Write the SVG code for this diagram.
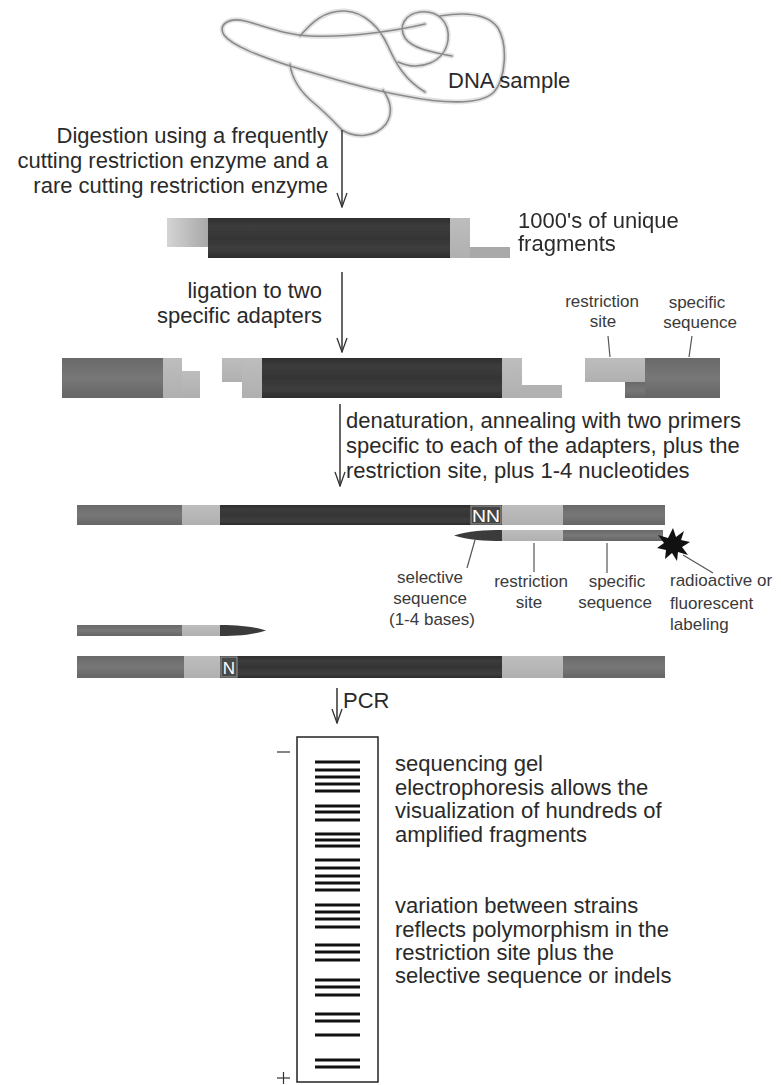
<svg xmlns="http://www.w3.org/2000/svg" width="781" height="1085" viewBox="0 0 781 1085">
  <style>
    .t { font-family: "Liberation Sans", Arial, sans-serif; font-size: 22px; fill: #2a2a2a; }
    .s { font-family: "Liberation Sans", Arial, sans-serif; font-size: 17px; fill: #3a3a3a; }
    .w { font-family: "Liberation Sans", Arial, sans-serif; font-size: 17px; fill: #ffffff; }
    .strand { fill: none; stroke: #8a8a8a; stroke-width: 1.6; stroke-linecap: round; }
    .halo { fill: none; stroke: #e2e2e2; stroke-width: 5; stroke-linecap: round; }
    .conn { stroke: #333; stroke-width: 1.5; fill: none; }
    .lead { stroke: #555; stroke-width: 1.2; fill: none; }
    .band { stroke: #111; stroke-width: 3; }
  </style>
  <defs>
    <linearGradient id="gDark" x1="0" y1="0" x2="0" y2="1">
      <stop offset="0" stop-color="#2e2e2e"/>
      <stop offset="0.2" stop-color="#3c3c3c"/>
      <stop offset="0.5" stop-color="#353535"/>
      <stop offset="0.8" stop-color="#3e3e3e"/>
      <stop offset="1" stop-color="#2c2c2c"/>
    </linearGradient>
    <linearGradient id="gMid" x1="0" y1="0" x2="0" y2="1">
      <stop offset="0" stop-color="#6a6a6a"/>
      <stop offset="0.5" stop-color="#777777"/>
      <stop offset="1" stop-color="#666666"/>
    </linearGradient>
    <linearGradient id="gLight" x1="0" y1="0" x2="0" y2="1">
      <stop offset="0" stop-color="#bdbdbd"/>
      <stop offset="1" stop-color="#b0b0b0"/>
    </linearGradient>
    <linearGradient id="gFadeL" x1="0" y1="0" x2="1" y2="0">
      <stop offset="0" stop-color="#d4d4d4"/>
      <stop offset="1" stop-color="#a8a8a8"/>
    </linearGradient>
    <filter id="soft" x="-5%" y="-20%" width="110%" height="140%">
      <feGaussianBlur stdDeviation="0.7"/>
    </filter>
    <marker id="vhead" viewBox="0 0 16 12" refX="15" refY="6" markerWidth="16" markerHeight="12" markerUnits="userSpaceOnUse" orient="auto">
      <path d="M1,1 L15,6 L1,11" fill="none" stroke="#333" stroke-width="1.3"/>
    </marker>
  </defs>

  <rect width="781" height="1085" fill="#ffffff"/>

  <!-- tangled genomic DNA -->
  <g id="dna-sample">
    <g class="halo">
      <path d="M425,24 C400,30 350,38 310,36 C285,35 265,26 245,21 C228,17 218,25 224,35 C232,46 260,56 290,66 C330,78 370,90 405,96 C440,103 480,106 494,92 C506,78 508,45 498,28 C488,14 465,12 440,16"/>
      <path d="M300,36 C312,22 325,10 345,11 C365,12 380,28 388,46 C396,64 405,80 425,92"/>
      <path d="M398,62 C420,72 445,62 448,40 C450,22 438,10 420,12 C405,14 398,26 405,38 C412,48 430,52 452,56"/>
      <path d="M290,64 C292,80 300,92 315,104 C328,115 336,124 342,130 C355,138 375,138 386,124 C394,112 390,100 383,90"/>
    </g>
    <g class="strand">
      <path d="M425,24 C400,30 350,38 310,36 C285,35 265,26 245,21 C228,17 218,25 224,35 C232,46 260,56 290,66 C330,78 370,90 405,96 C440,103 480,106 494,92 C506,78 508,45 498,28 C488,14 465,12 440,16"/>
      <path d="M300,36 C312,22 325,10 345,11 C365,12 380,28 388,46 C396,64 405,80 425,92"/>
      <path d="M398,62 C420,72 445,62 448,40 C450,22 438,10 420,12 C405,14 398,26 405,38 C412,48 430,52 452,56"/>
      <path d="M290,64 C292,80 300,92 315,104 C328,115 336,124 342,130 C355,138 375,138 386,124 C394,112 390,100 383,90"/>
    </g>
    <text class="t" x="448" y="88">DNA sample</text>
  </g>

  <!-- step texts -->
  <g id="step-digestion">
    <text class="t" x="328" y="143" text-anchor="end">Digestion using a frequently</text>
    <text class="t" x="328" y="168" text-anchor="end">cutting restriction enzyme and a</text>
    <text class="t" x="328" y="193" text-anchor="end">rare cutting restriction enzyme</text>
  </g>

  <!-- restriction fragment -->
  <g id="fragment" filter="url(#soft)">
    <rect x="167" y="218" width="41" height="29" fill="url(#gFadeL)"/>
    <rect x="208" y="218" width="242" height="40" fill="url(#gDark)"/>
    <rect x="450" y="218" width="20" height="40" fill="url(#gLight)"/>
    <rect x="470" y="247" width="40" height="11" fill="#a9a9a9"/>
    <text class="t" x="518" y="228">1000's of unique</text>
    <text class="t" x="518" y="251">fragments</text>
  </g>

  <g id="step-ligation">
    <text class="t" x="322" y="298" text-anchor="end">ligation to two</text>
    <text class="t" x="322" y="323" text-anchor="end">specific adapters</text>
  </g>

  <!-- adapters and ligated fragment -->
  <g id="ligated" filter="url(#soft)">
    <rect x="62" y="358" width="101" height="40" fill="url(#gMid)"/>
    <rect x="163" y="358" width="19" height="40" fill="url(#gLight)"/>
    <rect x="182" y="371" width="18" height="27" fill="url(#gLight)"/>
    <rect x="222" y="358" width="20" height="24" fill="url(#gLight)"/>
    <rect x="242" y="358" width="20" height="40" fill="url(#gLight)"/>
    <rect x="262" y="358" width="240" height="40" fill="url(#gDark)"/>
    <rect x="502" y="358" width="20" height="40" fill="url(#gLight)"/>
    <rect x="522" y="385" width="40" height="13" fill="#b2b2b2"/>
    <rect x="585" y="358" width="60" height="24" fill="url(#gLight)"/>
    <rect x="625" y="382" width="20" height="16" fill="url(#gMid)"/>
    <rect x="645" y="358" width="75" height="40" fill="url(#gMid)"/>
  </g>
  <g id="adapter-labels">
    <text class="s" x="602" y="307" text-anchor="middle">restriction</text>
    <text class="s" x="603" y="327" text-anchor="middle">site</text>
    <text class="s" x="697" y="308" text-anchor="middle">specific</text>
    <text class="s" x="700" y="328" text-anchor="middle">sequence</text>
  </g>

  <g id="step-denaturation">
    <text class="t" x="346" y="428">denaturation, annealing with two primers</text>
    <text class="t" x="346" y="453">specific to each of the adapters, plus the</text>
    <text class="t" x="346" y="478">restriction site, plus 1-4 nucleotides</text>
  </g>

  <!-- top strand with annealed primer -->
  <g id="strand-top" filter="url(#soft)">
    <rect x="77" y="505" width="105" height="20" fill="url(#gMid)"/>
    <rect x="182" y="505" width="38" height="20" fill="url(#gLight)"/>
    <rect x="220" y="505" width="282" height="20" fill="url(#gDark)"/>
    <rect x="502" y="505" width="61" height="20" fill="url(#gLight)"/>
    <rect x="563" y="505" width="102" height="20" fill="url(#gMid)"/>
    <rect x="471" y="506" width="30" height="18" fill="#444" stroke="#9a9a9a" stroke-width="1"/>
  </g>
  <text class="w" x="486" y="522" text-anchor="middle" textLength="28" lengthAdjust="spacingAndGlyphs">NN</text>
  <g id="primer-labelled" filter="url(#soft)">
    <path d="M454,535.5 C468,531 485,530 502,530 L502,541 C485,541 468,540 454,535.5 Z" fill="#3a3a3a"/>
    <rect x="502" y="530" width="61" height="11" fill="url(#gLight)"/>
    <rect x="563" y="530" width="100" height="11" fill="url(#gMid)"/>
  </g>
  <g id="label-star">
    <path d="M673,528 L676,537 L684,531 L681,540 L690,542 L682,547 L688,555 L678,552 L677,561 L672,553 L665,559 L666,550 L657,548 L664,543 L658,535 L668,538 Z" fill="#111"/>
  </g>
  <g id="primer-labels">
    <text class="s" x="430" y="583" text-anchor="middle">selective</text>
    <text class="s" x="430" y="604" text-anchor="middle">sequence</text>
    <text class="s" x="432" y="625" text-anchor="middle">(1-4 bases)</text>
    <text class="s" x="531" y="587" text-anchor="middle">restriction</text>
    <text class="s" x="529" y="608" text-anchor="middle">site</text>
    <text class="s" x="617" y="587" text-anchor="middle">specific</text>
    <text class="s" x="615" y="608" text-anchor="middle">sequence</text>
    <text class="s" x="670" y="586">radioactive or</text>
    <text class="s" x="670" y="609">fluorescent</text>
    <text class="s" x="670" y="630">labeling</text>
  </g>

  <!-- bottom strand with annealed primer -->
  <g id="primer-forward" filter="url(#soft)">
    <rect x="77" y="625" width="105" height="11" fill="url(#gMid)"/>
    <rect x="182" y="625" width="38" height="11" fill="url(#gLight)"/>
    <path d="M220,625 C240,625 255,627 266,630.5 C255,634 240,636 220,636 Z" fill="#3a3a3a"/>
  </g>
  <g id="strand-bottom" filter="url(#soft)">
    <rect x="77" y="656" width="107" height="22" fill="url(#gMid)"/>
    <rect x="184" y="656" width="36" height="22" fill="url(#gLight)"/>
    <rect x="220" y="656" width="282" height="22" fill="url(#gDark)"/>
    <rect x="502" y="656" width="61" height="22" fill="url(#gLight)"/>
    <rect x="563" y="656" width="102" height="22" fill="url(#gMid)"/>
    <rect x="221" y="657" width="16" height="20" fill="#4a4a4a" stroke="#9a9a9a" stroke-width="1"/>
  </g>
  <text class="w" x="229" y="674" text-anchor="middle">N</text>

  <!-- arrows and label leaders -->
  <g id="connectors">
    <line class="conn" x1="342" y1="130" x2="342" y2="207" marker-end="url(#vhead)"/>
    <line class="conn" x1="342" y1="272" x2="342" y2="352" marker-end="url(#vhead)"/>
    <line class="conn" x1="340" y1="404" x2="340" y2="486" marker-end="url(#vhead)"/>
    <line class="conn" x1="337" y1="688" x2="337" y2="723" marker-end="url(#vhead)"/>
    <line class="lead" x1="608" y1="336" x2="610" y2="357"/>
    <line class="lead" x1="692" y1="336" x2="689" y2="357"/>
    <line class="lead" x1="475" y1="540" x2="467" y2="568"/>
    <line class="lead" x1="534" y1="543" x2="534" y2="572"/>
    <line class="lead" x1="607" y1="543" x2="607" y2="573"/>
    <line class="lead" x1="683" y1="555" x2="713" y2="573"/>
  </g>

  <!-- sequencing gel -->
  <g id="gel">
    <rect x="297" y="737" width="81" height="345" fill="#ffffff" stroke="#222" stroke-width="1.5"/>
    <line x1="277" y1="752" x2="290" y2="752" stroke="#333" stroke-width="1.2"/>
    <line x1="277" y1="1078" x2="290" y2="1078" stroke="#333" stroke-width="1.2"/>
    <line x1="283.5" y1="1072" x2="283.5" y2="1084" stroke="#333" stroke-width="1.2"/>
    <g class="band">
      <line x1="315" y1="762" x2="360" y2="762"/>
      <line x1="315" y1="770" x2="360" y2="770"/>
      <line x1="315" y1="777" x2="360" y2="777"/>
      <line x1="315" y1="784" x2="360" y2="784"/>
      <line x1="315" y1="791" x2="360" y2="791"/>
      <line x1="315" y1="806" x2="360" y2="806"/>
      <line x1="315" y1="812" x2="360" y2="812"/>
      <line x1="315" y1="820" x2="360" y2="820"/>
      <line x1="315" y1="834" x2="360" y2="834"/>
      <line x1="315" y1="840" x2="360" y2="840"/>
      <line x1="315" y1="846" x2="360" y2="846"/>
      <line x1="315" y1="860" x2="360" y2="860"/>
      <line x1="315" y1="868" x2="360" y2="868"/>
      <line x1="315" y1="876" x2="360" y2="876"/>
      <line x1="315" y1="883" x2="360" y2="883"/>
      <line x1="315" y1="890" x2="360" y2="890"/>
      <line x1="315" y1="905" x2="360" y2="905"/>
      <line x1="315" y1="912" x2="360" y2="912"/>
      <line x1="315" y1="919" x2="360" y2="919"/>
      <line x1="315" y1="927" x2="360" y2="927"/>
      <line x1="315" y1="945" x2="360" y2="945"/>
      <line x1="315" y1="952" x2="360" y2="952"/>
      <line x1="315" y1="960" x2="360" y2="960"/>
      <line x1="315" y1="980" x2="360" y2="980"/>
      <line x1="315" y1="987" x2="360" y2="987"/>
      <line x1="315" y1="995" x2="360" y2="995"/>
      <line x1="315" y1="1014" x2="360" y2="1014"/>
      <line x1="315" y1="1021" x2="360" y2="1021"/>
      <line x1="315" y1="1035" x2="360" y2="1035"/>
      <line x1="315" y1="1060" x2="360" y2="1060"/>
      <line x1="315" y1="1067" x2="360" y2="1067"/>
    </g>
    <text class="t" x="343" y="708">PCR</text>
  </g>

  <g id="gel-notes">
    <text class="t" x="395" y="771">sequencing gel</text>
    <text class="t" x="395" y="795">electrophoresis allows the</text>
    <text class="t" x="395" y="818">visualization of hundreds of</text>
    <text class="t" x="395" y="842">amplified fragments</text>
    <text class="t" x="395" y="913">variation between strains</text>
    <text class="t" x="395" y="937">reflects polymorphism in the</text>
    <text class="t" x="395" y="960">restriction site plus the</text>
    <text class="t" x="395" y="983">selective sequence or indels</text>
  </g>
</svg>
